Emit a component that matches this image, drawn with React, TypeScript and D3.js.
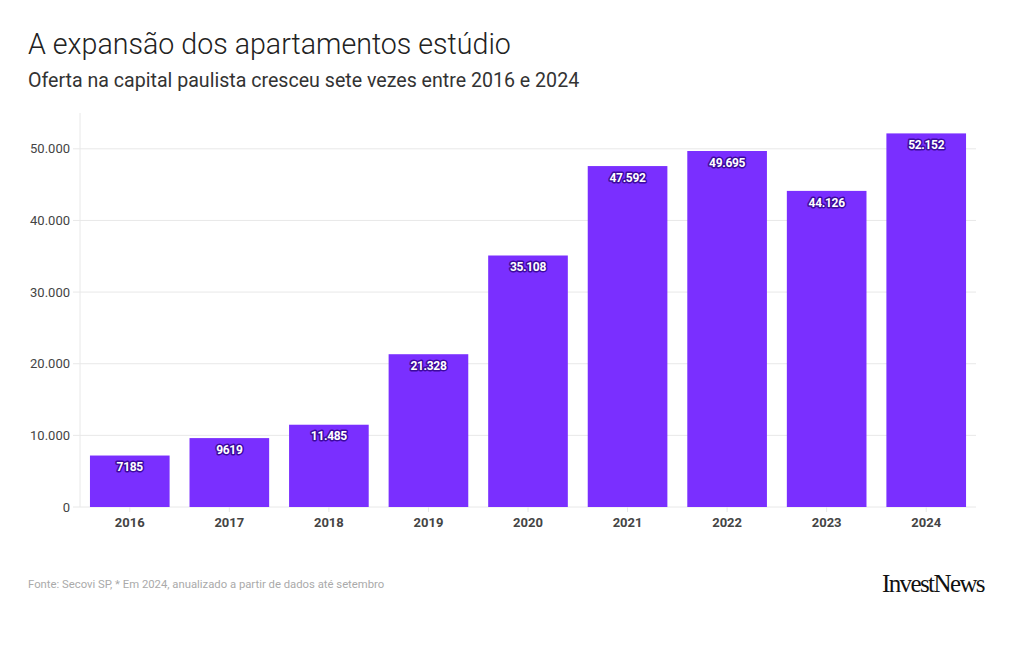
import React from "react";
import * as d3 from "d3";

const years = ["2016", "2017", "2018", "2019", "2020", "2021", "2022", "2023", "2024"];
const values = [7185, 9619, 11485, 21328, 35108, 47592, 49695, 44126, 52152];
const labels = ["7185", "9619", "11.485", "21.328", "35.108", "47.592", "49.695", "44.126", "52.152"];
const yTicks = [0, 10000, 20000, 30000, 40000, 50000];

const W = 1020, H = 650;
const M = { left: 80, right: 976, top: 113, bottom: 507 };
const FONT = "Roboto, 'Noto Sans', sans-serif";

const fmt = (v: number) => (v === 0 ? "0" : d3.format(",")(v).replace(/,/g, "."));

export default function App() {
  const x = d3.scaleBand<string>().domain(years).range([M.left, M.right]).paddingInner(0.2).paddingOuter(0.1);
  const y = d3.scaleLinear().domain([0, 55000]).range([M.bottom, M.top]);
  return (
    <svg width={W} height={H} style={{ position: "absolute", left: 0, top: 0, background: "#fff" }} fontFamily={FONT}>
      <rect width={W} height={H} fill="#fff" />
      <text x={28} y={54} fontSize={28.6} fontWeight={300} fill="#222">A expansão dos apartamentos estúdio</text>
      <text x={28} y={87} fontSize={19.6} fill="#333">Oferta na capital paulista cresceu sete vezes entre 2016 e 2024</text>
      {yTicks.map((t) => (
        <g key={t}>
          <line x1={M.left - 7} x2={M.right} y1={y(t)} y2={y(t)} stroke="#e8e8e8" strokeWidth={1} />
          <text x={M.left - 10} y={y(t)} dy="0.35em" textAnchor="end" fontSize={13} fill="#444">{fmt(t)}</text>
        </g>
      ))}
      <line x1={M.left} x2={M.left} y1={M.top} y2={M.bottom} stroke="#e8e8e8" />
      {years.map((yr, i) => (
        <g key={yr}>
          <rect x={x(yr)} y={y(values[i])} width={x.bandwidth()} height={M.bottom - y(values[i])} fill="#7a2fff" />
          <line x1={(x(yr) as number) + x.bandwidth() / 2} x2={(x(yr) as number) + x.bandwidth() / 2} y1={M.bottom} y2={M.bottom + 5} stroke="#e8e8e8" />
          <text x={(x(yr) as number) + x.bandwidth() / 2} y={522} dy="0.35em" textAnchor="middle" fontSize={13} fontWeight={700} fill="#444">{yr}</text>
          <text x={(x(yr) as number) + x.bandwidth() / 2} y={y(values[i]) + 11.5} dy="0.35em" textAnchor="middle" fontSize={12} fontWeight={700} fill="#fff" stroke="#3d0a9e" strokeWidth={3} strokeLinejoin="round" paintOrder="stroke" letterSpacing={-0.3}>{labels[i]}</text>
        </g>
      ))}
      <text x={28} y={588} fontSize={11.3} fill="#aaa">Fonte: Secovi SP, * Em 2024, anualizado a partir de dados até setembro</text>
      <text x={984} y={592} textAnchor="end" fontSize={25} fontFamily="'Liberation Serif', 'DejaVu Serif', serif" letterSpacing={-1.6} fill="#111">InvestNews</text>
    </svg>
  );
}
